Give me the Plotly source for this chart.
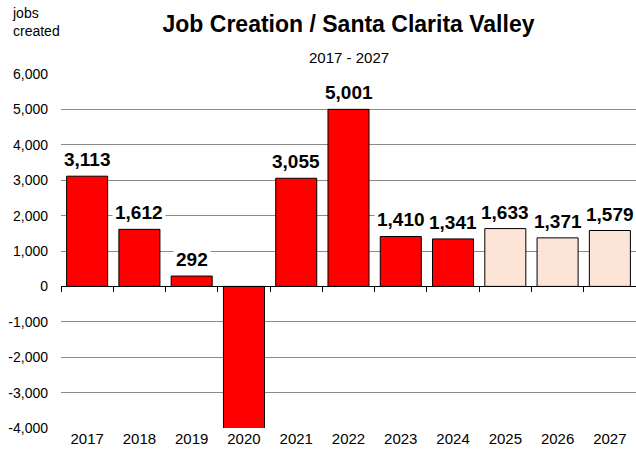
import plotly.graph_objects as go

years = ['2017', '2018', '2019', '2020', '2021', '2022', '2023', '2024', '2025', '2026', '2027']
jobs = [3113, 1612, 292, -4400, 3055, 5001, 1410, 1341, 1633, 1371, 1579]
labels = ['3,113', '1,612', '292', '', '3,055', '5,001', '1,410', '1,341', '1,633', '1,371', '1,579']
forecast = [False, False, False, False, False, False, False, False, True, True, True]
y_tickvals = [-4000, -3000, -2000, -1000, 0, 1000, 2000, 3000, 4000, 5000, 6000]
y_ticktext = ['-4,000', '-3,000', '-2,000', '-1,000', '0', '1,000', '2,000', '3,000', '4,000', '5,000', '6,000']

FONT = 'Liberation Sans, Arial, sans-serif'
colors = ['#FCE4D6' if f else '#FF0000' for f in forecast]

fig = go.Figure()
fig.add_trace(go.Bar(
    x=years,
    y=jobs,
    marker=dict(color=colors, line=dict(color='black', width=1)),
    hoverinfo='x+y',
    showlegend=False,
))
# invisible trace so the zero-line axis with boundary ticks gets drawn
fig.add_trace(go.Scatter(
    x=years,
    y=[0] * len(years),
    xaxis='x2',
    mode='markers',
    marker=dict(opacity=0),
    hoverinfo='skip',
    showlegend=False,
))

# value labels with white boxes (they hide the gridlines behind them)
for i, (v, lab) in enumerate(zip(jobs, labels)):
    if lab == '':
        continue
    fig.add_annotation(
        x=i, y=v, xref='x', yref='y',
        text='<b>' + lab + '</b>',
        showarrow=False,
        yanchor='bottom',
        yshift=3,
        bgcolor='white',
        borderpad=2,
        font=dict(family=FONT, size=19, color='black'),
    )

fig.add_annotation(
    xref='paper', yref='paper', x=0.5, y=1.048,
    text='2017 - 2027', showarrow=False, yanchor='middle',
    font=dict(family=FONT, size=15, color='black'),
)
fig.add_annotation(
    xref='paper', yref='paper', x=-0.089, y=1.2,
    text='jobs<br>created', showarrow=False, xanchor='left', yanchor='top', align='left',
    font=dict(family=FONT, size=14, color='black'),
)

fig.update_layout(
    width=636,
    height=457,
    margin=dict(l=61, r=0, t=74, b=29),
    paper_bgcolor='white',
    plot_bgcolor='white',
    bargap=0.215,
    title=dict(
        text='<b>Job Creation / Santa Clarita Valley</b>',
        x=0.5, xref='paper', y=0.947, yanchor='middle',
        font=dict(family=FONT, size=23, color='black'),
    ),
    font=dict(family=FONT, color='black'),
    xaxis=dict(
        type='category',
        range=[-0.5, 10.5],
        showgrid=False,
        showline=False,
        ticks='',
        tickfont=dict(family=FONT, size=15, color='black'),
    ),
    xaxis2=dict(
        type='category',
        overlaying='x',
        anchor='free',
        position=0.4,
        range=[-0.5, 10.5],
        showgrid=False,
        showline=True,
        linecolor='black',
        linewidth=1,
        ticks='outside',
        tickson='boundaries',
        ticklen=5,
        tickcolor='black',
        showticklabels=False,
    ),
    yaxis=dict(
        range=[-4000, 6000],
        tickvals=y_tickvals,
        ticktext=y_ticktext,
        showgrid=True,
        gridcolor='#8C8C8C',
        gridwidth=1,
        zeroline=False,
        showline=False,
        ticklabelstandoff=12,
        tickfont=dict(family=FONT, size=14, color='black'),
    ),
)

fig.write_html("out.html", config={'displayModeBar': False},
               post_script="document.body.style.margin='0';")
